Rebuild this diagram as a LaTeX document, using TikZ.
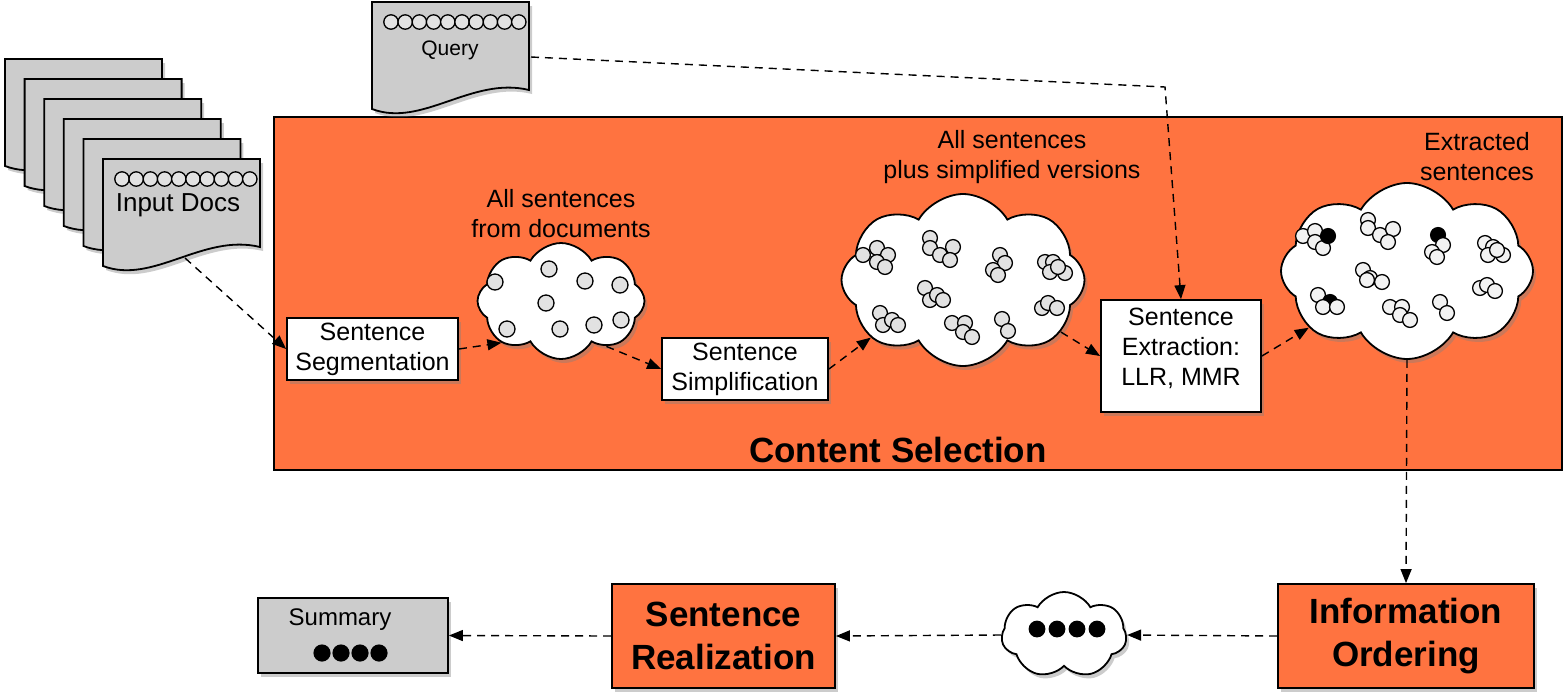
\documentclass[tikz,border=0pt]{standalone}
\usepackage{fontspec}
\setmainfont{Liberation Sans}
\usetikzlibrary{shapes.symbols,shadows,arrows.meta}
\definecolor{selorange}{RGB}{255,115,64}
\definecolor{pagegray}{RGB}{204,204,204}
\definecolor{dotgray}{RGB}{226,226,226}
\definecolor{dotlight}{RGB}{242,242,242}
\tikzset{
  flow/.style={line width=0.7pt, dash pattern=on 4pt off 3pt, -{Triangle[length=7pt,width=5.5pt]}},
  boxshadow/.style={drop shadow={opacity=0.4,shadow xshift=1.5pt,shadow yshift=-2pt}},
  stepbox/.style={draw, line width=0.9pt, fill=white, boxshadow, align=center, inner sep=0pt, font=\fontsize{12.5}{15}\selectfont},
  bigbox/.style={draw, line width=0.9pt, fill=selorange, boxshadow, align=center, inner sep=0pt, font=\fontsize{17.5}{21.5}\selectfont\bfseries},
  sentcloud/.style={cloud, cloud puffs=8, cloud puff arc=120, cloud ignores aspect, draw, line width=0.9pt, fill=white, boxshadow, inner sep=0pt},
  cloudlabel/.style={align=center, font=\fontsize{12.5}{15}\selectfont},
  sent/.style={draw, line width=0.65pt, fill=dotgray},
  pagefill/.style={draw, line width=0.9pt, fill=pagegray, boxshadow},
  docpage/.pic={
    \path[pagefill] (0,0) -- (157,0) -- (157,88) .. controls (100,74) and (50,126) .. (0,107) -- cycle;
  },
}
\begin{document}
\begin{tikzpicture}[x=0.5pt,y=-0.5pt]
\useasboundingbox (0,0) rectangle (1564,692);
% the content selection frame
\node[draw, line width=0.6pt, fill=selorange, minimum width=644pt, minimum height=176.5pt, inner sep=0pt] (select) at (918,293.5) {};
\node[font=\fontsize{17.5}{20}\selectfont\bfseries] (selectlabel) at (898,450) {Content Selection};

% the stack of input docs
\foreach \i in {0,...,5}
  \pic at (5+19.6*\i, 59+20*\i) {docpage};
\foreach \c in {0,...,9}
  \draw[sent] (122+14.2*\c, 179) circle (3.6pt);
\node[font=\fontsize{13}{15}\selectfont] (docs) at (178,205) {Input Docs};
\coordinate (docsout) at (185,258);

% the query
\pic at (372,2) {docpage};
\foreach \c in {0,...,9}
  \draw[sent] (391+14.2*\c, 22) circle (3.6pt);
\node[font=\fontsize{10.5}{12}\selectfont] (query) at (450,50) {Query};
\coordinate (queryout) at (531,57);
\coordinate (querybend) at (1165,87);

% the steps
\node[stepbox, minimum width=85.5pt, minimum height=31pt] (seg) at (372.5,349) {Sentence\\Segmentation};
\node[stepbox, minimum width=83pt, minimum height=31pt] (simp) at (745,369) {Sentence\\Simplification};
\node[stepbox, minimum width=80pt, minimum height=56pt] (extr) at (1181,356) {};
\node[cloudlabel] (extrlabel) at (1181,348) {Sentence\\Extraction:\\LLR, MMR};

% the clouds of sentences
\node[sentcloud, minimum width=83.5pt, minimum height=58pt] (cloud1) at (561,301) {};
\node[sentcloud, minimum width=121.5pt, minimum height=86pt] (cloud2) at (963,280) {};
\node[sentcloud, minimum width=126pt, minimum height=88pt] (cloud3) at (1407,271) {};
\node[sentcloud, cloud puffs=7, minimum width=62.5pt, minimum height=43pt] (cloud4) at (1064,635) {};

\foreach \x/\y in {495/282, 549/269, 585/281, 620/285, 546/303, 507/329, 560/329, 594/325, 621/320}
  \draw[sent] (\x,\y) circle (4pt);
\foreach \x/\y in {863/255, 877/248, 888/255, 877/262, 885/267,
                   930/238, 930/248, 940/255, 953/247, 950/260,
                   1000/255, 1005/263, 993/270, 998/275,
                   1045/262, 1053/262, 1050/272, 1065/273, 1058/267,
                   925/288, 930/300, 937/295, 943/300,
                   880/313, 883/325, 892/320, 898/325,
                   952/323, 965/323, 963/332, 972/337,
                   1002/319, 1008/331,
                   1042/308, 1048/303, 1057/308}
  \draw[sent] (\x,\y) circle (3.7pt);
\foreach \x/\y/\f in {1303/236/dotlight, 1315/231/dotlight, 1315/242/dotlight, 1323/248/dotlight, 1328/236/black,
                      1368/220/dotlight, 1368/228/dotlight, 1380/235/dotlight, 1393/229/dotlight, 1388/242/dotlight,
                      1438/235/black, 1443/245/dotlight, 1432/252/dotlight, 1437/257/dotlight,
                      1485/243/dotlight, 1493/247/dotlight, 1488/255/dotlight, 1503/255/dotlight, 1497/250/dotlight,
                      1363/270/dotlight, 1370/278/dotlight, 1382/282/dotlight, 1367/280/dotlight,
                      1480/288/dotlight, 1487/285/dotlight, 1495/291/dotlight,
                      1318/295/dotlight, 1330/302/black, 1323/307/dotlight, 1337/307/dotlight,
                      1390/307/dotlight, 1402/307/dotlight, 1400/315/dotlight, 1410/320/dotlight,
                      1440/302/dotlight, 1447/313/dotlight}
  \draw[sent, fill=\f] (\x,\y) circle (3.7pt);

\node[cloudlabel] (cloud1label) at (561,214) {All sentences\\from documents};
\node[cloudlabel] (cloud2label) at (1012,157) {All sentences\\plus simplified versions};
\node[cloudlabel] (cloud3label) at (1477,157) {Extracted\\sentences};

% the last two steps and the summary
\node[bigbox, minimum width=128pt, minimum height=52pt] (order) at (1406,636) {Information\\Ordering};
\node[bigbox, minimum width=111.5pt, minimum height=52pt] (real) at (723.5,636) {Sentence\\Realization};
\node[draw, line width=0.9pt, fill=pagegray, boxshadow, minimum width=95pt, minimum height=37.5pt, inner sep=0pt] (summary) at (353,635.5) {};
\node[font=\fontsize{12}{14}\selectfont] (summarylabel) at (340,620) {Summary};
\foreach \x in {322,341,360,379}
  \fill (\x,653) circle (4.3pt);
\foreach \x in {1037,1057,1077,1097}
  \fill (\x,629) circle (4.2pt);

% the connectors
\draw[flow] (docsout) -- (seg.west);
\draw[flow] (seg.east) -- (cloud1.215);
\draw[flow] (cloud1.-45) -- (simp.west);
\draw[flow] (simp.east) -- (cloud2.212);
\draw[flow] (cloud2.-28) -- (extr.west);
\draw[flow] (extr.east) -- (cloud3.210);
\draw[flow] (queryout) -- (querybend) -- (extr.north);
\draw[flow] (cloud3.south) -- (order.north);
\draw[flow] (order.west) -- (cloud4.east);
\draw[flow] (cloud4.west) -- (real.east);
\draw[flow] (real.west) -- (summary.east);
\end{tikzpicture}
\end{document}
